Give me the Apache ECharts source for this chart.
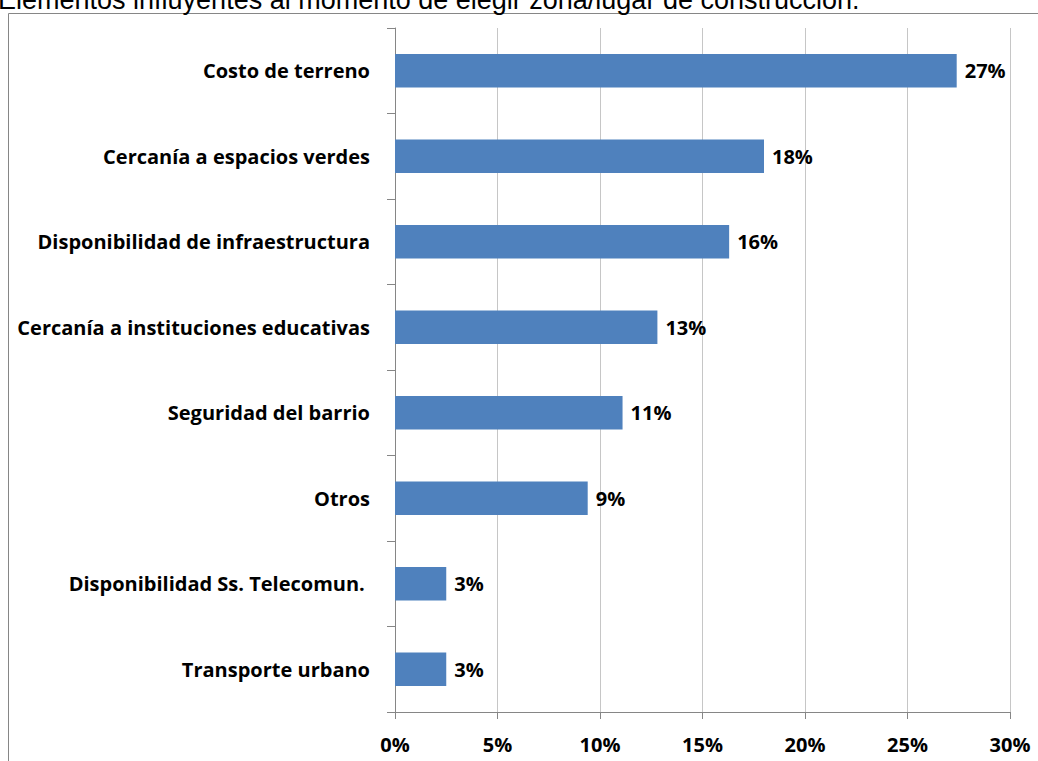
<!DOCTYPE html>
<html>
<head>
<meta charset="utf-8">
<script src="https://cdn.jsdelivr.net/npm/echarts@6/dist/echarts.min.js"></script>
<style>
  html, body { margin: 0; padding: 0; background: #fff; }
  #chart { width: 1038px; height: 761px; }
</style>
</head>
<body>
<div id="chart"></div>
<script>
// categories top to bottom, values as share (0-1)
var categories = [
  'Costo de terreno',
  'Cercanía a espacios verdes',
  'Disponibilidad de infraestructura',
  'Cercanía a instituciones educativas',
  'Seguridad del barrio',
  'Otros',
  'Disponibilidad Ss. Telecomun. ',
  'Transporte urbano'
];
var values = [0.274, 0.180, 0.163, 0.128, 0.111, 0.094, 0.025, 0.025];
var tickValues = [0, 0.05, 0.10, 0.15, 0.20, 0.25, 0.30];

var barColor = '#4F81BD';
var axisGray = '#868686';
var gridGray = '#c6c6c6';
var labelFont = '"Open Sans", "Noto Sans", sans-serif';

var chart = echarts.init(document.getElementById('chart'), null, { renderer: 'svg' });
chart.setOption({
  animation: false,
  title: {
    text: 'Elementos influyentes al momento de elegir zona/lugar de construcción.',
    left: -2,
    top: -14,
    padding: 0,
    textStyle: { fontFamily: '"Liberation Sans", Arial, sans-serif', fontSize: 27, fontWeight: 'normal', color: '#000' }
  },
  graphic: [{
    type: 'rect',
    shape: { x: 8.5, y: 13.5, width: 1100, height: 800 },
    style: { fill: 'none', stroke: axisGray, lineWidth: 1 },
    silent: true
  }],
  grid: { left: 395, right: 28, top: 28, bottom: 49 },
  xAxis: {
    type: 'value',
    min: tickValues[0],
    max: tickValues[tickValues.length - 1],
    interval: 0.05,
    axisLine: { show: true, lineStyle: { color: axisGray } },
    axisTick: { show: true, length: 7, lineStyle: { color: axisGray } },
    splitLine: { show: true, lineStyle: { color: gridGray } },
    axisLabel: {
      margin: 22,
      color: '#000',
      fontFamily: labelFont,
      fontWeight: 'bold',
      fontSize: 20,
      formatter: function(v) { return Math.round(v * 100) + '%'; }
    }
  },
  yAxis: {
    type: 'category',
    data: categories,
    inverse: true,
    axisLine: { show: true, lineStyle: { color: axisGray } },
    axisTick: { show: true, length: 8, lineStyle: { color: axisGray } },
    axisLabel: {
      margin: 25,
      color: '#000',
      fontFamily: labelFont,
      fontWeight: 'bold',
      fontSize: 20
    }
  },
  series: [{
    type: 'bar',
    data: values,
    barWidth: '39%',
    itemStyle: { color: barColor },
    label: {
      show: true,
      position: 'right',
      distance: 8,
      color: '#000',
      fontFamily: labelFont,
      fontWeight: 'bold',
      fontSize: 20,
      formatter: function(p) { return Math.round(p.value * 100) + '%'; }
    }
  }]
});
</script>
</body>
</html>
